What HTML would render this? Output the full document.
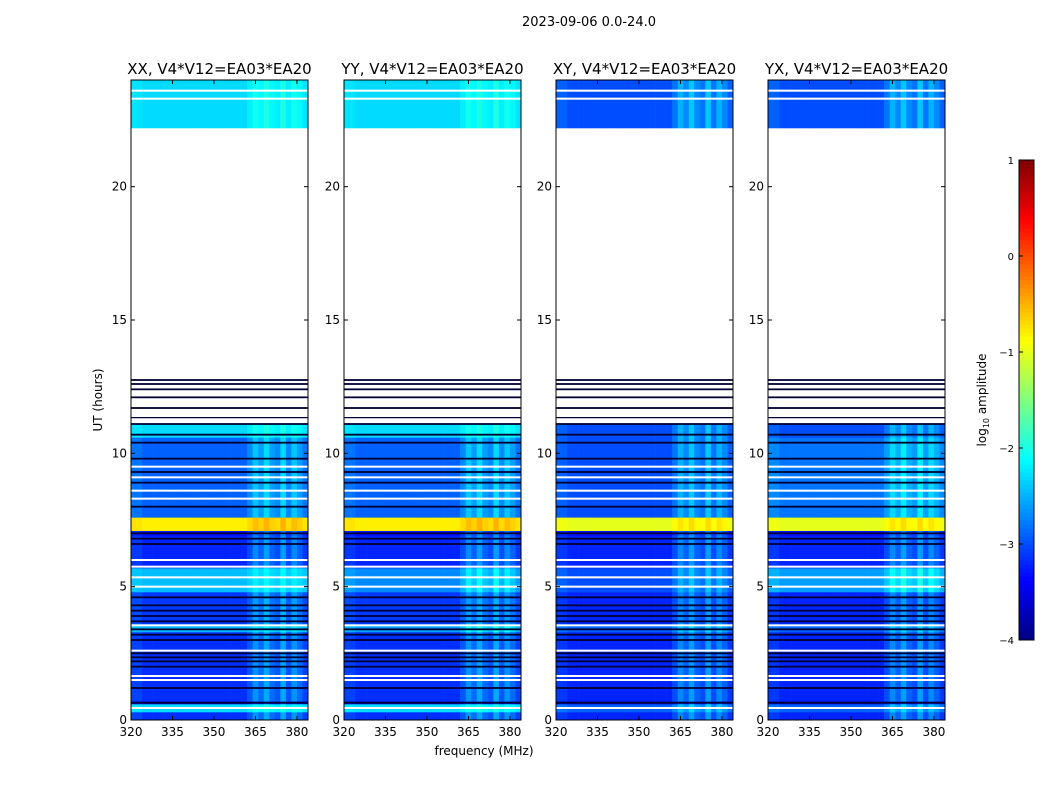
<!DOCTYPE html>
<html><head><meta charset="utf-8"><style>
body{margin:0;background:#fff;font-family:"Liberation Sans","DejaVu Sans",sans-serif}
svg text{font-family:"DejaVu Sans","Liberation Sans",sans-serif}
</style></head><body>
<svg id="c" width="1050" height="800" xmlns="http://www.w3.org/2000/svg">
<rect width="1050" height="800" fill="#fff"/>
<text x="589" y="26" font-size="13" text-anchor="middle">2023-09-06 0.0-24.0</text>
<text x="484" y="755" font-size="12" text-anchor="middle">frequency (MHz)</text>
<text transform="translate(102,400) rotate(-90)" font-size="12" text-anchor="middle">UT (hours)</text>
</svg>
<script>
const panelTitles=["XX, V4*V12=EA03*EA20","YY, V4*V12=EA03*EA20","XY, V4*V12=EA03*EA20","YX, V4*V12=EA03*EA20"];
const panelLeft=[131,344,556,768];
const bandStart=[0,0.3,0.6,0.7,3.3,3.6,4.8,5.7,6.9,7.1,7.6,10.6,11.1,22.2];
const bandEnd=[0.3,0.6,0.7,3.3,3.6,4.8,5.7,6.9,7.1,7.6,10.6,11.1,22.2,24];
const levelXX=[-3.15,-2.3,-3.6,-3.15,-2.5,-3.1,-2.45,-3.2,-3.3,-0.8,-2.9,-2.3,null,-2.3];
const levelYY=[-3.15,-2.3,-3.6,-3.15,-2.6,-3.1,-2.7,-3.2,-3.3,-0.8,-2.9,-2.3,null,-2.3];
const levelXY=[-3.2,-2.9,-3.6,-3.2,-2.9,-3.2,-3.0,-3.2,-3.3,-1.0,-3.0,-3.0,null,-3.0];
const levelYX=[-3.2,-2.9,-3.6,-3.2,-2.9,-3.2,-2.6,-3.2,-3.3,-1.0,-2.8,-3.0,null,-3.0];
const panelLevels=[levelXX,levelYY,levelXY,levelYX];
const freqBins=[320,324,328,332,336,340,344,348,352,356,360,362,364,366,368,370,372,374,376,378,380,382];
const rfiBoost=[0.1,0,0,0,0,0,0,0,0,0,0,0.2,0.5,0.3,0.6,0.3,0.2,0.6,0.2,0.5,0.3,0.1];
const whiteLines=[0.45,1.5,1.65,2.6,3.55,5.0,5.35,5.75,6.0,8.3,8.6,9.1,9.5,11.2,11.4,11.6,11.8,12.0,12.2,12.5,23.3,23.6];
const blackLines=[0.65,1.2,2.0,2.2,2.35,2.5,3.0,3.2,3.4,3.7,3.9,4.1,4.3,4.6,6.6,6.8,7.0,8.0,8.9,9.3,9.8,10.4,10.7,11.1,11.35,11.7,12.1,12.4,12.6,12.75];
const cmin=-4,cmax=1;
const pw=177,yTop=80,yBot=720,fmin=320,fmax=384,tmax=24;
const NS="http://www.w3.org/2000/svg";
const svg=document.getElementById('c');
function jet(v){v=Math.max(0,Math.min(1,v));
 const r=Math.max(0,Math.min(1,1.5-Math.abs(4*v-3))),g=Math.max(0,Math.min(1,1.5-Math.abs(4*v-2))),b=Math.max(0,Math.min(1,1.5-Math.abs(4*v-1)));
 return `rgb(${Math.round(r*255)},${Math.round(g*255)},${Math.round(b*255)})`;}
function el(t,a,p){const e=document.createElementNS(NS,t);for(const k in a)e.setAttribute(k,a[k]);(p||svg).appendChild(e);return e;}
function ys(t){return yBot-(t/tmax)*(yBot-yTop);}
panelLeft.forEach((L,pi)=>{
 const xs=f=>L+(f-fmin)/(fmax-fmin)*pw;
 const g=el('g',{});
 
 
 const lv=panelLevels[pi];
 for(let b=0;b<bandStart.length;b++){
  if(lv[b]===null)continue;
  for(let k=0;k<freqBins.length;k++){
   const f0=freqBins[k],f1=k+1<freqBins.length?freqBins[k+1]:fmax;
   const boost=(bandStart[b]<11||bandStart[b]>22)?rfiBoost[k]*(lv[b]<-2.5?1:0.5):0;
   const v=lv[b]+boost;
   const r=el('rect',{x:xs(f0),y:ys(bandEnd[b]),width:xs(f1)-xs(f0)+0.3,height:ys(bandStart[b])-ys(bandEnd[b])+0.3,fill:jet((v-cmin)/(cmax-cmin))},g);
   
   
  }
 }
 blackLines.forEach(t=>{const r=el('rect',{x:L,y:ys(t)-0.9,width:pw,height:1.8,fill:'#000033'},g);
  });
 whiteLines.forEach(t=>{const r=el('rect',{x:L,y:ys(t)-1,width:pw,height:2,fill:'#fff'},g);
  });
 const fr=el('rect',{x:L,y:yTop,width:pw,height:yBot-yTop,fill:'none',stroke:'#000','stroke-width':1},g);
 
 const tt=el('text',{x:L+pw/2,y:74,'font-size':15,'text-anchor':'middle'},g);tt.textContent=panelTitles[pi];
 
 [0,5,10,15,20].forEach(t=>{const y=ys(t);
  el('line',{x1:L,x2:L+4,y1:y,y2:y,stroke:'#000'},g);el('line',{x1:L+pw-4,x2:L+pw,y1:y,y2:y,stroke:'#000'},g);
  const tx=el('text',{x:L-4,y:y+4,'font-size':12,'text-anchor':'end'},g);tx.textContent=t;
  });
 [320,335,350,365,380].forEach(f=>{const x=xs(f);
  el('line',{x1:x,x2:x,y1:yBot,y2:yBot-4,stroke:'#000'},g);el('line',{x1:x,x2:x,y1:yTop,y2:yTop+4,stroke:'#000'},g);
  const tx=el('text',{x:x,y:736,'font-size':12,'text-anchor':'middle'},g);tx.textContent=f;
  });
});
const cb=el('g',{});


const cbX=1019,cbW=15,cbT=160,cbB=640;
for(let i=0;i<120;i++){const y=cbB-(i+1)*(cbB-cbT)/120;el('rect',{x:cbX,y:y,width:cbW,height:(cbB-cbT)/120+0.5,fill:jet((i+0.5)/120)},cb);}
el('rect',{x:cbX,y:cbT,width:cbW,height:cbB-cbT,fill:'none',stroke:'#000'},cb);
[1,0,-1,-2,-3,-4].forEach(v=>{const y=cbB-(v-cmin)/(cmax-cmin)*(cbB-cbT);
 el('line',{x1:cbX,x2:cbX+4,y1:y,y2:y,stroke:'#000'},cb);
 const t=el('text',{x:cbX-5,y:y+4,'font-size':10,'text-anchor':'end'},cb);t.textContent=v<0?'\u2212'+(-v):String(v);
 });
const ct=el('text',{transform:'translate(986,400) rotate(-90)','font-size':12,'text-anchor':'middle'},cb);
ct.innerHTML='log<tspan font-size="8" dy="3">10</tspan><tspan dy="-3"> amplitude</tspan>';


</script>
</body></html>
